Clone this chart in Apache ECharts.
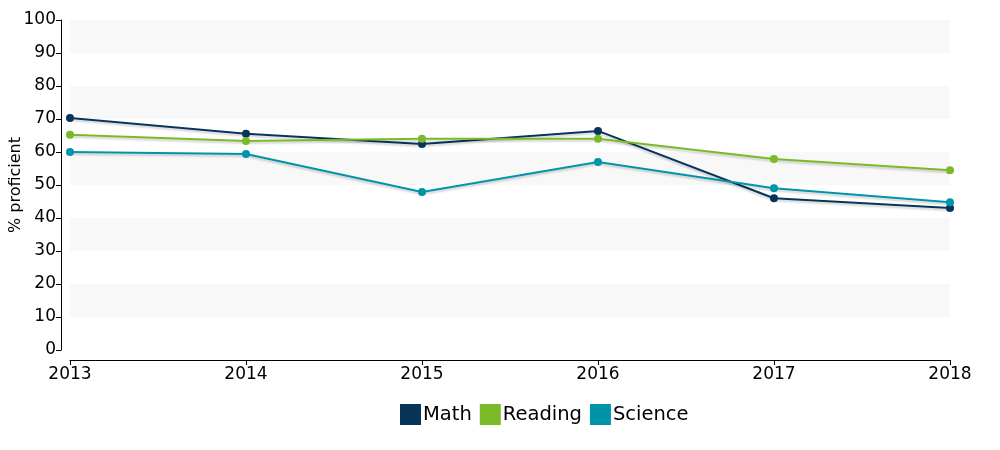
<!DOCTYPE html>
<html><head><meta charset="utf-8">
<script src="https://cdn.jsdelivr.net/npm/echarts@6/dist/echarts.min.js"></script>
<style>html,body{margin:0;padding:0;background:#fff}#c{width:1000px;height:450px}</style>
</head><body><div id="c"></div>
<script>
const years = ['2013','2014','2015','2016','2017','2018'];
const math = [70.3, 65.5, 62.4, 66.4, 46.0, 43.0];
const reading = [65.2, 63.3, 64.0, 64.0, 57.9, 54.5];
const science = [60.0, 59.4, 47.9, 57.0, 49.0, 44.8];
const yTicks = [0,10,20,30,40,50,60,70,80,90,100];

const colors = ['#08345a', '#7aba28', '#0094a9'];
const font = 'DejaVu Sans, Verdana, sans-serif';
function mk(name, data, color){
  return {name, type:'line', data, color, symbol:'circle', symbolSize:8,
    lineStyle:{width:2, color, shadowColor:'rgba(0,0,0,0.18)', shadowBlur:2, shadowOffsetY:2},
    itemStyle:{color}};
}
const chart = echarts.init(document.getElementById('c'));
chart.setOption({
  animation:false,
  grid:{left:70, right:50, top:20, bottom:100, containLabel:false, outerBoundsMode:'none'},
  legend:{bottom:20, left:395, itemWidth:21, itemHeight:21, itemGap:8,
    icon:'rect', textStyle:{fontFamily:font, fontSize:19.5, color:'#000', padding:[0,0,0,-3]},
    data:['Math','Reading','Science']},
  xAxis:{type:'category', data:years, boundaryGap:false, offset:10,
    axisLine:{onZero:false, lineStyle:{color:'#000'}}, axisTick:{alignWithLabel:true, length:5, lineStyle:{color:'#000'}},
    axisLabel:{fontFamily:font, fontSize:17, color:'#000', margin:6}, splitLine:{show:false}},
  yAxis:{type:'value', min:0, max:100, interval:10, offset:9,
    name:'% proficient', nameLocation:'middle', nameGap:37, nameRotate:90, nameMoveOverlap:false,
    nameTextStyle:{fontFamily:font, fontSize:16, color:'#000'},
    axisLine:{show:true, onZero:false, lineStyle:{color:'#000'}}, axisTick:{show:true, length:5, lineStyle:{color:'#000'}},
    axisLabel:{fontFamily:font, fontSize:17, color:'#000', margin:5,
      formatter:v=>yTicks.includes(v)?String(v):''},
    splitLine:{show:false},
    splitArea:{show:true, areaStyle:{color:['#ffffff','#f8f8f8']}}},
  series:[mk('Math',math,colors[0]), mk('Reading',reading,colors[1]), mk('Science',science,colors[2])]
});
</script></body></html>
